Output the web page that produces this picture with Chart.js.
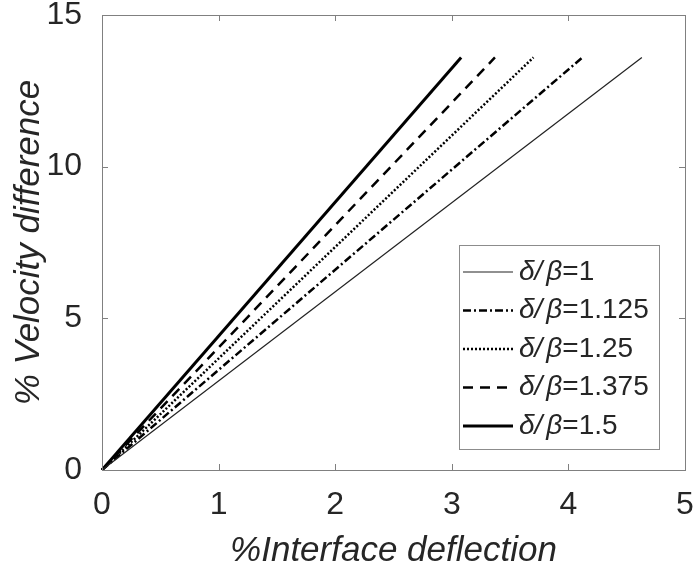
<!DOCTYPE html>
<html>
<head>
<meta charset="utf-8">
<script src="https://cdn.jsdelivr.net/npm/chart.js@4"></script>
<style>
  html, body { margin: 0; padding: 0; background: #fff; }
  canvas { display: block; }
</style>
</head>
<body>
<canvas id="chart" width="698" height="569"></canvas>
<script>
// values
const ratioLabels = ["δ/β=1", "δ/β=1.125", "δ/β=1.25", "δ/β=1.375", "δ/β=1.5"];
const endDeflection = [4.63, 4.12, 3.70, 3.37, 3.08];
const endVelocity = [13.6, 13.6, 13.6, 13.6, 13.6];
const xTicks = [0, 1, 2, 3, 4, 5];
const yTicks = [0, 5, 10, 15];

const lineStyles = [
  { width: 1.2, dash: [], color: "#222" },
  { width: 2.5, dash: [8, 3, 2, 3], color: "#000" },
  { width: 2.5, dash: [2, 2], color: "#000" },
  { width: 2.5, dash: [10, 7], color: "#000" },
  { width: 3, dash: [], color: "#000" },
];

const FONT = "'Liberation Sans', Arial, sans-serif";
const TEXT = "#262626";
const AXIS = "#808080";

const datasets = ratioLabels.map((label, i) => ({
  label,
  data: [{ x: 0, y: 0 }, { x: endDeflection[i], y: endVelocity[i] }],
  showLine: true,
  borderColor: lineStyles[i].color,
  borderWidth: lineStyles[i].width,
  borderDash: lineStyles[i].dash,
  pointRadius: 0,
  fill: false,
  clip: false,
}));

// box, inward ticks on all four sides, and the legend
const boxPlugin = {
  id: "box",
  afterDatasetsDraw(chart) {
    const { ctx, chartArea: a, scales } = chart;
    ctx.save();
    ctx.strokeStyle = AXIS;
    ctx.lineWidth = 1;
    ctx.setLineDash([]);
    ctx.strokeRect(a.left + 0.5, a.top + 0.5, a.right - a.left, a.bottom - a.top);
    const tl = 6;
    ctx.beginPath();
    xTicks.forEach((v) => {
      const px = Math.round(scales.x.getPixelForValue(v)) + 0.5;
      ctx.moveTo(px, a.bottom); ctx.lineTo(px, a.bottom - tl);
      ctx.moveTo(px, a.top); ctx.lineTo(px, a.top + tl);
    });
    yTicks.forEach((v) => {
      const py = Math.round(scales.y.getPixelForValue(v)) + 0.5;
      ctx.moveTo(a.left, py); ctx.lineTo(a.left + tl, py);
      ctx.moveTo(a.right, py); ctx.lineTo(a.right - tl, py);
    });
    ctx.stroke();

    // legend
    const lx = 459, ly = 245, lw = 200, lh = 204;
    ctx.fillStyle = "#fff";
    ctx.fillRect(lx, ly, lw, lh);
    ctx.strokeStyle = "#8c8c8c";
    ctx.strokeRect(lx + 0.5, ly + 0.5, lw, lh);
    chart.data.datasets.forEach((ds, i) => {
      const y = ly + 27 + i * 38.5;
      ctx.beginPath();
      ctx.strokeStyle = ds.borderColor;
      ctx.lineWidth = ds.borderWidth;
      ctx.setLineDash(ds.borderDash);
      ctx.moveTo(lx + 4, y);
      ctx.lineTo(lx + 54, y);
      ctx.stroke();
      ctx.setLineDash([]);
      const [greek, value] = ds.label.split("=");
      ctx.fillStyle = TEXT;
      ctx.textBaseline = "middle";
      ctx.font = "italic 28px " + FONT;
      let x = lx + 60;
      const parts = greek.split("/");
      ctx.fillText(parts[0] + "/", x, y);
      x += ctx.measureText(parts[0] + "/").width + 4;
      ctx.fillText(parts[1], x, y);
      x += ctx.measureText(parts[1]).width;
      ctx.font = "28px " + FONT;
      ctx.fillText("=" + value, x, y);
    });
    ctx.restore();
  },
};

new Chart(document.getElementById("chart"), {
  type: "scatter",
  data: { datasets },
  options: {
    responsive: false,
    animation: false,
    events: [],
    layout: { padding: { top: 15, right: 13, left: 0, bottom: 0 } },
    plugins: { legend: { display: false }, tooltip: { enabled: false } },
    scales: {
      x: {
        type: "linear",
        min: 0,
        max: 5,
        afterFit: (s) => { s.height = 99; s.paddingLeft = 0; s.paddingRight = 0; },
        afterBuildTicks: (s) => { s.ticks = xTicks.map((v) => ({ value: v })); },
        grid: { display: false },
        border: { display: false },
        ticks: { color: TEXT, font: { family: FONT, size: 32 }, padding: 8 },
        title: {
          display: true,
          text: "%Interface deflection",
          color: TEXT,
          font: { family: FONT, size: 35, style: "italic", lineHeight: 1 },
          padding: { top: 0, bottom: 0 },
        },
      },
      y: {
        type: "linear",
        min: 0,
        max: 15,
        afterFit: (s) => { s.width = 102; s.paddingTop = 0; s.paddingBottom = 0; },
        afterBuildTicks: (s) => { s.ticks = yTicks.map((v) => ({ value: v })); },
        grid: { display: false },
        border: { display: false },
        ticks: { color: TEXT, font: { family: FONT, size: 32 }, padding: 12 },
        title: {
          display: true,
          text: "% Velocity difference",
          color: TEXT,
          font: { family: FONT, size: 35, style: "italic", lineHeight: 1 },
          padding: { top: 12, bottom: 0 },
        },
      },
    },
  },
  plugins: [boxPlugin],
});
</script>
</body>
</html>
